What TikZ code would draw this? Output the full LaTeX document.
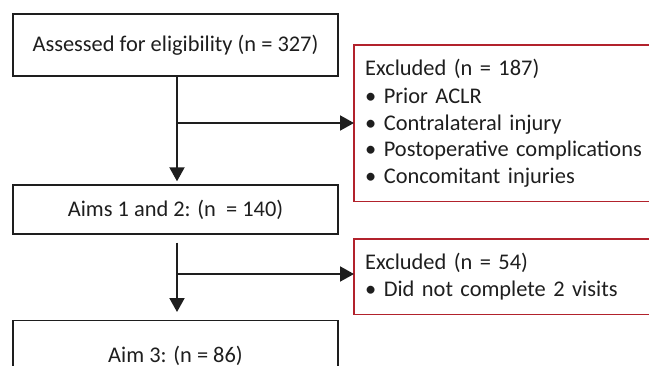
\documentclass[tikz,border=0pt]{standalone}
\usepackage{fontspec}
\setmainfont{Carlito}
\usetikzlibrary{arrows.meta}
\definecolor{exred}{RGB}{178,34,44}
\definecolor{ink}{RGB}{30,30,30}
\hyphenpenalty=10000
\tikzset{
  box/.style={draw=ink, line width=1.4pt, minimum width=325pt, inner sep=0pt,
    font=\fontsize{22.4}{26.5}\selectfont, text=ink},
  redbox/.style={anchor=north west, minimum width=335pt,
    inner xsep=11pt, inner ysep=0pt, align=left, text width=313pt,
    font=\fontsize{22.4}{26.5}\selectfont, text=ink},
  redline/.style={draw=exred, line width=1.4pt},
  flow/.style={draw=ink, line width=2pt, -{Triangle[length=14pt,width=15pt]}}
}
\begin{document}
\begin{tikzpicture}[x=1pt,y=-1pt]
\useasboundingbox (0,0) rectangle (649,365);
\begin{scope}
\clip (0,0) rectangle (649,365);
\node[box, minimum height=62pt] (b1) at (175.5,45) {Assessed for eligibility (n = 327)};
\node[box, minimum height=49pt] (b2) at (175.5,209.5) {Aims 1 and 2: (n\ \ = 140)};
\node[box, minimum height=70pt, anchor=north] (b3) at (175.5,320) {\raisebox{3pt}{Aim 3: (n = 86)}};
\node[redbox, minimum height=156pt] (e1) at (354,45) {\raisebox{2pt}{Excluded (n = 187)}\\
\textbullet\ Prior ACLR\\
\textbullet\ Contralateral injury\\
\textbullet\ Postoperative complications\\
\textbullet\ Concomitant injuries};
\node[redbox, minimum height=75pt] (e2) at (354,239) {Excluded (n = 54)\\
\textbullet\ Did not complete 2 visits};
\draw[redline] (e1.north east) -- (e1.north west) -- (e1.south west) -- (e1.south east);
\draw[redline] (e2.north east) -- (e2.north west) -- (e2.south west) -- (e2.south east);
\coordinate (h1) at (177,123);
\coordinate (h2) at (177,274);
\draw[flow, shorten >=3pt] (b1.south -| h1) -- (b2.north -| h1);
\draw[flow] (h1) -- (h1 -| e1.west);
\draw[flow, shorten <=8pt, shorten >=8pt] (b2.south -| h2) -- (b3.north -| h2);
\draw[flow] (h2) -- (h2 -| e2.west);
\end{scope}
\end{tikzpicture}
\end{document}
